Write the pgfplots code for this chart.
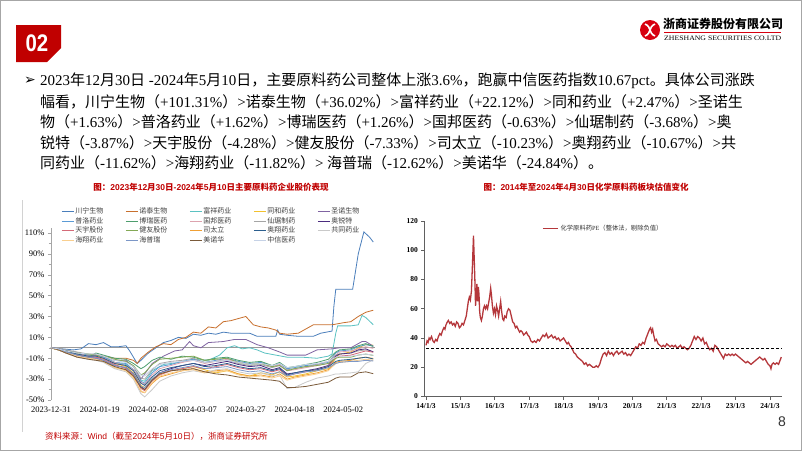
\documentclass[border=0pt]{standalone}
\usepackage{fontspec}
\usepackage{graphicx}
\usepackage{pgfplots}
\usepackage{pgfplotstable}
\pgfplotsset{compat=1.18}
\setmainfont{Liberation Serif}
\setsansfont{Liberation Sans}
\newfontfamily\cjk{Noto Sans CJK SC}
\newfontfamily\dejavu{DejaVu Sans}

% automatic switch to the CJK font for CJK characters
\XeTeXinterchartokenstate=1
\newXeTeXintercharclass\CJKcls
\newcount\cc
\def\setrange#1#2{\cc=#1\relax\loop\XeTeXcharclass\cc=\CJKcls\relax\ifnum\cc<#2\relax\advance\cc by 1\repeat}
\setrange{"3000}{"303F}
\setrange{"4E00}{"9FFF}
\setrange{"FF00}{"FFEF}
\def\cjkon{\cjk}
\def\latinfont{\rmfamily}
\XeTeXinterchartoks 0 \CJKcls = {\cjkon}
\XeTeXinterchartoks 4095 \CJKcls = {\cjkon}
\XeTeXinterchartoks \CJKcls 0 = {\latinfont}
\XeTeXinterchartoks \CJKcls 4095 = {\latinfont}

\definecolor{cn}{HTML}{4A7EBB}
\definecolor{nt}{HTML}{C8702E}
\definecolor{fx}{HTML}{5BC2C2}
\definecolor{th}{HTML}{F2C12E}
\definecolor{sn}{HTML}{8064A2}
\definecolor{pl}{HTML}{5B9BD5}
\definecolor{br}{HTML}{4E9E6E}
\definecolor{gb}{HTML}{DDA3AE}
\definecolor{xj}{HTML}{A5A5A5}
\definecolor{ar}{HTML}{4B2C7F}
\definecolor{ty}{HTML}{D46A78}
\definecolor{jy}{HTML}{84A956}
\definecolor{stl}{HTML}{F0A035}
\definecolor{ax}{HTML}{2C5F8E}
\definecolor{gt}{HTML}{C9C9C9}
\definecolor{hx}{HTML}{F9CF8F}
\definecolor{hpr}{HTML}{7C97C7}
\definecolor{mnh}{HTML}{7A5A3A}
\definecolor{zx}{HTML}{C6D2E6}
\definecolor{pe}{HTML}{B5373B}
\definecolor{titlered}{HTML}{C00000}
\definecolor{badge}{HTML}{C00000}
\definecolor{logored}{HTML}{D7000F}

\pgfplotstableread{
x   th   pl   br   gb   xj   ar   ty   jy   stl   ax   gt   hx   hpr  mnh  zx
0   0    0    0    0    0    0    0    0    0     0    0    0    0    0    0
2   -1   -2   -2   -1   0    -1   -2   -2   -2    -1   -2   -2   -1   -2   -1
4   -3   -2   -4   -3   -2   -4   -5   -3   -5    -3   -5   -4   -4   -5   -3
7   -6   -5   -7   -5   -4   -7   -7   -5   -9    -6   -9   -8   -7   -9   -5
10  -8   -7   -9   -8   -6   -9   -9   -6   -10   -8   -11  -10  -9   -11  -6
12  -7   -6   -5   -9   -6   -10  -9   -7   -11   -8   -12  -11  -10  -12  -6
14  -10  -9   -7   -10  -8   -12  -11  -8   -13   -10  -14  -13  -12  -13  -8
17  -15  -14  -10  -14  -12  -17  -16  -11  -19   -15  -20  -19  -17  -18  -12
20  -18  -15  -11  -17  -13  -19  -20  -13  -21   -17  -23  -22  -19  -21  -14
22  -24  -21  -15  -21  -18  -25  -26  -17  -28   -22  -30  -29  -25  -27  -18
24  -36  -32  -20  -33  -29  -37  -39  -26  -42   -34  -44  -41  -37  -38  -26
25  -38  -34  -18  -35  -30  -40  -41  -24  -43   -36  -47  -43  -38  -40  -27
27  -30  -24  -12  -26  -21  -31  -32  -16  -34   -28  -40  -33  -30  -31  -20
29  -25  -18  -9   -20  -15  -24  -26  -11  -28   -22  -32  -27  -24  -25  -16
32  -22  -16  -11  -17  -13  -20  -22  -10  -25   -19  -27  -24  -21  -22  -14
35  -20  -13  -8   -14  -12  -17  -20  -9   -22   -17  -24  -22  -19  -21  -13
38  -18  -11  -9   -12  -10  -15  -18  -8   -20   -15  -22  -21  -17  -20  -12
41  -21  -14  -12  -15  -14  -17  -20  -12  -23   -18  -24  -24  -20  -23  -14
44  -24  -12  -10  -13  -13  -15  -18  -11  -22   -17  -21  -23  -19  -25  -13
47  -22  -10  -9   -11  -12  -13  -16  -10  -21   -15  -20  -22  -18  -26  -12
50  -25  -13  -12  -14  -15  -16  -19  -14  -25   -18  -23  -26  -21  -28  -14
53  -27  -15  -14  -16  -17  -18  -21  -16  -27   -20  -25  -28  -23  -29  -16
56  -24  -14  -13  -15  -16  -17  -20  -15  -26   -19  -24  -27  -22  -30  -15
59  -26  -17  -17  -18  -19  -21  -23  -18  -28   -22  -27  -29  -25  -31  -17
61  -23  -15  -14  -16  -17  -19  -21  -17  -25   -20  -26  -27  -23  -32  -15
63  -28  -20  -19  -22  -21  -25  -27  -22  -30   -26  -39  -31  -27  -38  -19
65  -27  -19  -18  -21  -20  -24  -25  -20  -28   -24  -38  -29  -25  -38  -18
68  -25  -17  -16  -19  -18  -22  -23  -18  -26   -22  -33  -27  -23  -37  -16
71  -22  -16  -14  -17  -16  -20  -21  -17  -24   -21  -29  -25  -22  -35  -15
74  -20  -14  -11  -15  -13  -17  -18  -15  -21   -18  -27  -22  -19  -33  -13
76  -10  -5   -4   -7   -7   -8   -9   -10  -14   -13  -25  -15  -15  -29  -9
77  -6   -3   -2   -4   -6   -6   -8   -9   -13   -12  -25  -14  -14  -28  -8
80  -4   -2   -1   -3   -5   -5   -7   -9   -12   -11  -24  -13  -13  -28  -8
82  0    1    2    -1   -3   -2   -5   -7   -10   -10  -23  -12  -13  -24  -7
84  3    3    4    1    -2   -1   -3   -6   -9    -9   -15  -11  -12  -23  -6
86  2.5  1.6  1.3  -0.6 -3.7 -3.9 -4.3 -7.3 -10.2 -10.7 -11.6 -11.8 -12.6 -24.8 -7.1
}\bundle

\begin{document}
\begin{tikzpicture}
\begin{scope}[x=1pt,y=-1pt]
\path[use as bounding box] (0,0) rectangle (802,451);
\fill[white] (0,0) rectangle (802,451);
\draw[gray!70, line width=1pt] (0.5,0.5) rectangle (801.5,450.5);
% badge
\fill[badge] (16,25) -- (61,25) -- (61,48) -- (47,62) -- (16,62) -- cycle;
\node[text=white, font=\sffamily\bfseries\fontsize{24}{24}\selectfont] at (37,43) {\scalebox{0.85}[1]{02}};
% logo
\fill[logored] (650,30) circle (10);
\draw[white, line width=1.6pt] (645,24) .. controls (652,27) and (648,33) .. (655,36);
\draw[white, line width=1.6pt] (655,24) .. controls (648,27) and (652,33) .. (645,36);
\node[anchor=west, inner sep=0pt, font=\bfseries\fontsize{12}{12}\selectfont] at (663,24) {浙商证券股份有限公司};
\draw[logored, line width=0.6pt] (664,32.5) -- (781,32.5);
\node[anchor=west, inner sep=0pt] at (664,38.5) {\resizebox{117pt}{4.5pt}{ZHESHANG SECURITIES CO.LTD}};
% body text
\node[font=\dejavu\fontsize{14}{14}\selectfont] at (30,81) {➢};
\begin{scope}[every node/.style={anchor=west, inner sep=0pt, font=\fontsize{15}{18}\selectfont}]
\node at (40,81) {2023年12月30日 -2024年5月10日，主要原料药公司整体上涨3.6\%，跑赢中信医药指数10.67pct。具体公司涨跌};
\node at (40,101.5) {幅看，川宁生物（+101.31\%）>诺泰生物（+36.02\%）>富祥药业（+22.12\%）>同和药业（+2.47\%）>圣诺生};
\node at (40,122) {物（+1.63\%）>普洛药业（+1.62\%）>博瑞医药（+1.26\%）>国邦医药（-0.63\%）>仙琚制药（-3.68\%）>奥};
\node at (40,142.5) {锐特（-3.87\%）>天宇股份（-4.28\%）>健友股份（-7.33\%）>司太立（-10.23\%）>奥翔药业（-10.67\%）>共};
\node at (40,163) {同药业（-11.62\%）>海翔药业（-11.82\%）> 海普瑞（-12.62\%）>美诺华（-24.84\%）。};
\end{scope}
% chart titles
\node[text=titlered, font=\bfseries\fontsize{8.5}{9}\selectfont] at (211,187) {\def\latinfont{\sffamily}\sffamily 图：2023年12月30日-2024年5月10日主要原料药企业股价表现};
\node[text=titlered, font=\bfseries\fontsize{8.5}{9}\selectfont] at (586,187) {\def\latinfont{\sffamily}\sffamily 图：2014年至2024年4月30日化学原料药板块估值变化};
% left chart frame line
\draw[gray!35] (22,200) -- (22,432);
% source
\node[anchor=west, inner sep=0pt, text=titlered, font=\fontsize{8.5}{9}\selectfont] at (45,436) {\def\latinfont{\sffamily}\sffamily 资料来源：Wind（截至2024年5月10日），浙商证券研究所};
% page number
\node[text=black!80, font=\sffamily\fontsize{14}{14}\selectfont] at (782,422) {8};
\end{scope}

% ---------------- left chart ----------------
\begin{axis}[
  at={(51pt,-400pt)}, anchor=south west, scale only axis,
  width=326pt, height=172.3pt,
  xmin=0, xmax=87, ymin=-50, ymax=115,
  axis lines*=left,
  x axis line style={draw=none,-},
  y axis line style={draw=gray!70,-},
  xtick={0,13,26,39,52,65,78},
  xticklabels={2023-12-31,2024-01-19,2024-02-08,2024-03-07,2024-03-27,2024-04-18,2024-05-02},
  x tick style={draw=none},
  xticklabel style={font=\fontsize{8.5}{9}\selectfont},
  ytick={-50,-30,-10,10,30,50,70,90,110},
  yticklabels={-50\%,-30\%,-10\%,10\%,30\%,50\%,70\%,90\%,110\%},
  yticklabel style={font=\fontsize{8.5}{9}\selectfont},
  minor ytick={-40,-20,0,20,40,60,80,100},
  y tick style={draw=gray!70},
  tick align=outside, major tick length=3pt, minor tick length=2pt,
  legend columns=5,
  legend cell align=left,
  legend style={at={(0.022,1.132)}, anchor=north west, draw=none, fill=none,
    font=\fontsize{7}{8}\selectfont, text=black!75,
    /tikz/every even column/.append style={column sep=3pt},
    nodes={inner sep=1pt, text height=5.5pt, text depth=2pt}},
  legend image code/.code={\draw[#1, line width=1pt] (0pt,0pt) -- (12pt,0pt);},
  every axis plot/.append style={line width=0.8pt},
]
\draw[gray!80, line width=0.8pt] (axis cs:0,0) -- (axis cs:86.5,0);
\addplot[cn] coordinates {(0,0)(3,-1)(6,-2)(8,-1)(10,4)(12,3)(14,5)(16,1)(18,1)(20,2)(21,-3)(22,-9)(23,-15)(24,-12)(26,-5)(28,0)(30,5)(32,7)(34,10)(36,9)(38,13)(40,12)(42,14)(44,13)(46,15)(48,14)(50,14)(53,14)(55,11)(58,11)(60,11)(60.5,17)(61,13)(63,12)(66,11)(70,11)(72,14)(75,16)(75.5,40)(76,56)(80.5,56)(82,90)(83.5,111)(85,106)(86,101.3)};
\addlegendentry{\makebox[46pt][l]{川宁生物}}
\addplot[nt] coordinates {(0,0)(3,-2)(6,-4)(10,-7)(14,-8)(17,-10)(20,-10)(22,-12)(23,-15)(24,-10)(26,-4)(28,1)(30,4)(32,3)(34,8)(36,10)(38,15)(40,14)(42,20)(44,19)(46,25)(48,26)(50,28)(52,30)(54,22)(56,20)(58,19)(60,17)(61,14)(63,13)(66,14)(68,18)(70,22)(75,22)(78,24)(80,25)(82,30)(84,34)(86,36)};
\addlegendentry{\makebox[46pt][l]{诺泰生物}}
\addplot[fx] coordinates {(0,0)(3,-2)(6,-5)(10,-7)(14,-8)(17,-14)(20,-16)(22,-21)(24,-31)(25,-32)(27,-22)(30,-16)(34,-14)(38,-11)(42,-12)(45,-7)(47,0)(49,2)(51,-1)(53,0)(55,-2)(57,-5)(60,-7)(63,-9)(67,-9)(71,-10)(74,-8)(75,-6)(76,14)(76.5,21)(80,21)(82,22)(83,31)(84,29)(86,22.1)};
\addlegendentry{\makebox[46pt][l]{富祥药业}}
\addplot[th] table[y=th] {\bundle};
\addlegendentry{\makebox[46pt][l]{同和药业}}
\addplot[sn] coordinates {(0,0)(3,-2)(6,-4)(10,-7)(14,-8)(17,-12)(20,-12)(22,-18)(24,-30)(25,-25)(27,-15)(30,-8)(33,-3)(35,-2)(37,6)(38,2)(40,0)(42,5)(46,6)(49,8)(52,8)(55,3)(58,0)(61,-4)(63,-7)(66,-7)(68,-7)(71,-2)(75,-1)(77,0)(80,0)(83,6)(84,6)(86,1.6)};
\addlegendentry{\makebox[46pt][l]{圣诺生物}}
\addplot[pl] table[y=pl] {\bundle};
\addlegendentry{\makebox[46pt][l]{普洛药业}}
\addplot[br] table[y=br] {\bundle};
\addlegendentry{\makebox[46pt][l]{博瑞医药}}
\addplot[gb] table[y=gb] {\bundle};
\addlegendentry{\makebox[46pt][l]{国邦医药}}
\addplot[xj] table[y=xj] {\bundle};
\addlegendentry{\makebox[46pt][l]{仙琚制药}}
\addplot[ar] table[y=ar] {\bundle};
\addlegendentry{\makebox[46pt][l]{奥锐特}}
\addplot[ty] table[y=ty] {\bundle};
\addlegendentry{\makebox[46pt][l]{天宇股份}}
\addplot[jy] table[y=jy] {\bundle};
\addlegendentry{\makebox[46pt][l]{健友股份}}
\addplot[stl] table[y=stl] {\bundle};
\addlegendentry{\makebox[46pt][l]{司太立}}
\addplot[ax] table[y=ax] {\bundle};
\addlegendentry{\makebox[46pt][l]{奥翔药业}}
\addplot[gt] table[y=gt] {\bundle};
\addlegendentry{\makebox[46pt][l]{共同药业}}
\addplot[hx] table[y=hx] {\bundle};
\addlegendentry{\makebox[46pt][l]{海翔药业}}
\addplot[hpr] table[y=hpr] {\bundle};
\addlegendentry{\makebox[46pt][l]{海普瑞}}
\addplot[mnh] table[y=mnh] {\bundle};
\addlegendentry{\makebox[46pt][l]{美诺华}}
\addplot[zx] table[y=zx] {\bundle};
\addlegendentry{\makebox[46pt][l]{中信医药}}
\end{axis}

% ---------------- right chart ----------------
\begin{axis}[
  at={(424.3pt,-396.5pt)}, anchor=south west, scale only axis,
  width=358pt, height=175.5pt,
  xmin=2013.95, xmax=2024.36, ymin=0, ymax=120,
  axis lines*=left,
  axis line style={draw=gray!75!black, line width=1.2pt, -},
  xtick={2014,2015,2016,2017,2018,2019,2020,2021,2022,2023,2024},
  xticklabels={14/1/3,15/1/3,16/1/3,17/1/3,18/1/3,19/1/3,20/1/3,21/1/3,22/1/3,23/1/3,24/1/3},
  ytick={0,20,40,60,80,100,120},
  /pgf/number format/assume math mode=true,
  tick align=outside, major tick length=3pt,
  tick style={draw=gray!75!black, line width=0.8pt},
  ticklabel style={font=\bfseries\fontsize{7.5}{8}\selectfont},
  legend style={at={(0.5,1.0)}, anchor=north, draw=none, fill=none,
    font=\fontsize{6.3}{7}\selectfont, text=black!80},
  legend image code/.code={\draw[#1, line width=1.5pt] (0pt,0pt) -- (15pt,0pt);},
]
\addplot[pe, line width=1.3pt] coordinates {
(2014.00,35)(2014.03,38)(2014.06,37)(2014.09,40)(2014.12,39)(2014.16,41)(2014.20,38)(2014.24,37)(2014.28,39)(2014.32,38)
(2014.36,41)(2014.40,43)(2014.44,42)(2014.48,45)(2014.52,47)(2014.55,46)(2014.58,49)(2014.62,51)(2014.65,52)(2014.69,50)
(2014.73,51)(2014.77,49)(2014.81,50)(2014.85,48)(2014.89,51)(2014.93,50)(2014.97,47)(2015.01,48)(2015.05,50)(2015.09,49)
(2015.13,52)(2015.17,55)(2015.20,60)(2015.23,65)(2015.26,68)(2015.29,66)(2015.32,72)(2015.35,90)(2015.38,110)(2015.40,95)
(2015.42,80)(2015.44,62)(2015.46,70)(2015.48,77)(2015.50,65)(2015.52,75)(2015.54,70)(2015.56,58)(2015.58,54)(2015.61,52)
(2015.64,55)(2015.67,60)(2015.70,62)(2015.73,60)(2015.76,62)(2015.79,60)(2015.82,64)(2015.85,68)(2015.88,74)(2015.90,70)
(2015.93,62)(2015.96,57)(2015.99,60)(2016.02,56)(2016.05,62)(2016.08,59)(2016.11,55)(2016.14,60)(2016.17,65)(2016.20,58)
(2016.23,53)(2016.26,52)(2016.29,55)(2016.33,54)(2016.36,58)(2016.40,60)(2016.44,59)(2016.48,55)(2016.52,51)(2016.56,50)
(2016.60,47)(2016.64,48)(2016.68,46)(2016.72,44)(2016.76,45)(2016.80,44)(2016.84,42)(2016.88,43)(2016.92,44)(2016.96,42)
(2017.00,41)(2017.05,38)(2017.10,37)(2017.15,38)(2017.20,37)(2017.25,39)(2017.30,38)(2017.35,40)(2017.40,42)(2017.45,41)
(2017.50,43)(2017.55,40)(2017.60,41)(2017.65,42)(2017.70,40)(2017.75,41)(2017.80,39)(2017.85,40)(2017.90,38)(2017.95,39)
(2018.00,40)(2018.05,38)(2018.10,36)(2018.14,37)(2018.18,35)(2018.22,34)(2018.26,32)(2018.30,30)(2018.35,29)(2018.40,27)
(2018.45,26)(2018.50,25)(2018.55,24)(2018.60,22)(2018.65,23)(2018.70,21)(2018.75,22)(2018.80,21)(2018.85,20)(2018.90,20)
(2018.95,21)(2019.00,20)(2019.05,22)(2019.10,26)(2019.15,29)(2019.20,30)(2019.25,28)(2019.30,31)(2019.35,29)(2019.40,30)
(2019.45,28)(2019.50,30)(2019.55,31)(2019.60,29)(2019.65,30)(2019.70,31)(2019.75,29)(2019.80,30)(2019.85,28)(2019.90,29)
(2019.95,28)(2020.00,30)(2020.05,32)(2020.10,34)(2020.15,33)(2020.20,36)(2020.25,35)(2020.30,37)(2020.35,36)(2020.40,40)
(2020.45,43)(2020.50,46)(2020.53,47)(2020.56,44)(2020.59,46)(2020.62,42)(2020.66,38)(2020.70,39)(2020.75,36)(2020.80,35)
(2020.85,34)(2020.90,35)(2020.95,34)(2021.00,36)(2021.05,35)(2021.10,34)(2021.15,35)(2021.20,34)(2021.25,35)(2021.30,33)
(2021.35,34)(2021.40,35)(2021.45,33)(2021.50,34)(2021.55,33)(2021.60,32)(2021.65,33)(2021.70,35)(2021.75,38)(2021.80,41)
(2021.85,39)(2021.90,41)(2021.95,40)(2022.00,38)(2022.05,40)(2022.10,36)(2022.15,37)(2022.20,34)(2022.25,32)(2022.30,33)
(2022.35,31)(2022.40,35)(2022.45,34)(2022.50,32)(2022.55,30)(2022.60,28)(2022.65,26)(2022.70,29)(2022.75,28)(2022.80,29)
(2022.85,28)(2022.90,29)(2022.95,28)(2023.00,29)(2023.05,28)(2023.10,27)(2023.15,26)(2023.20,25)(2023.25,24)(2023.30,23)
(2023.35,24)(2023.40,23)(2023.45,22)(2023.50,23)(2023.55,24)(2023.60,25)(2023.65,26)(2023.70,27)(2023.75,26)(2023.80,25)
(2023.85,26)(2023.90,24)(2023.95,22)(2024.00,21)(2024.03,19)(2024.06,22)(2024.10,23)(2024.15,22)(2024.20,23)(2024.25,22)
(2024.30,25)(2024.33,27)};
\addlegendentry{化学原料药PE（整体法，剔除负值）}
\addplot[black, line width=0.9pt, dash pattern=on 3pt off 2pt, forget plot] coordinates {(2014.0,33)(2024.33,33)};
\end{axis}
\end{tikzpicture}
\end{document}
